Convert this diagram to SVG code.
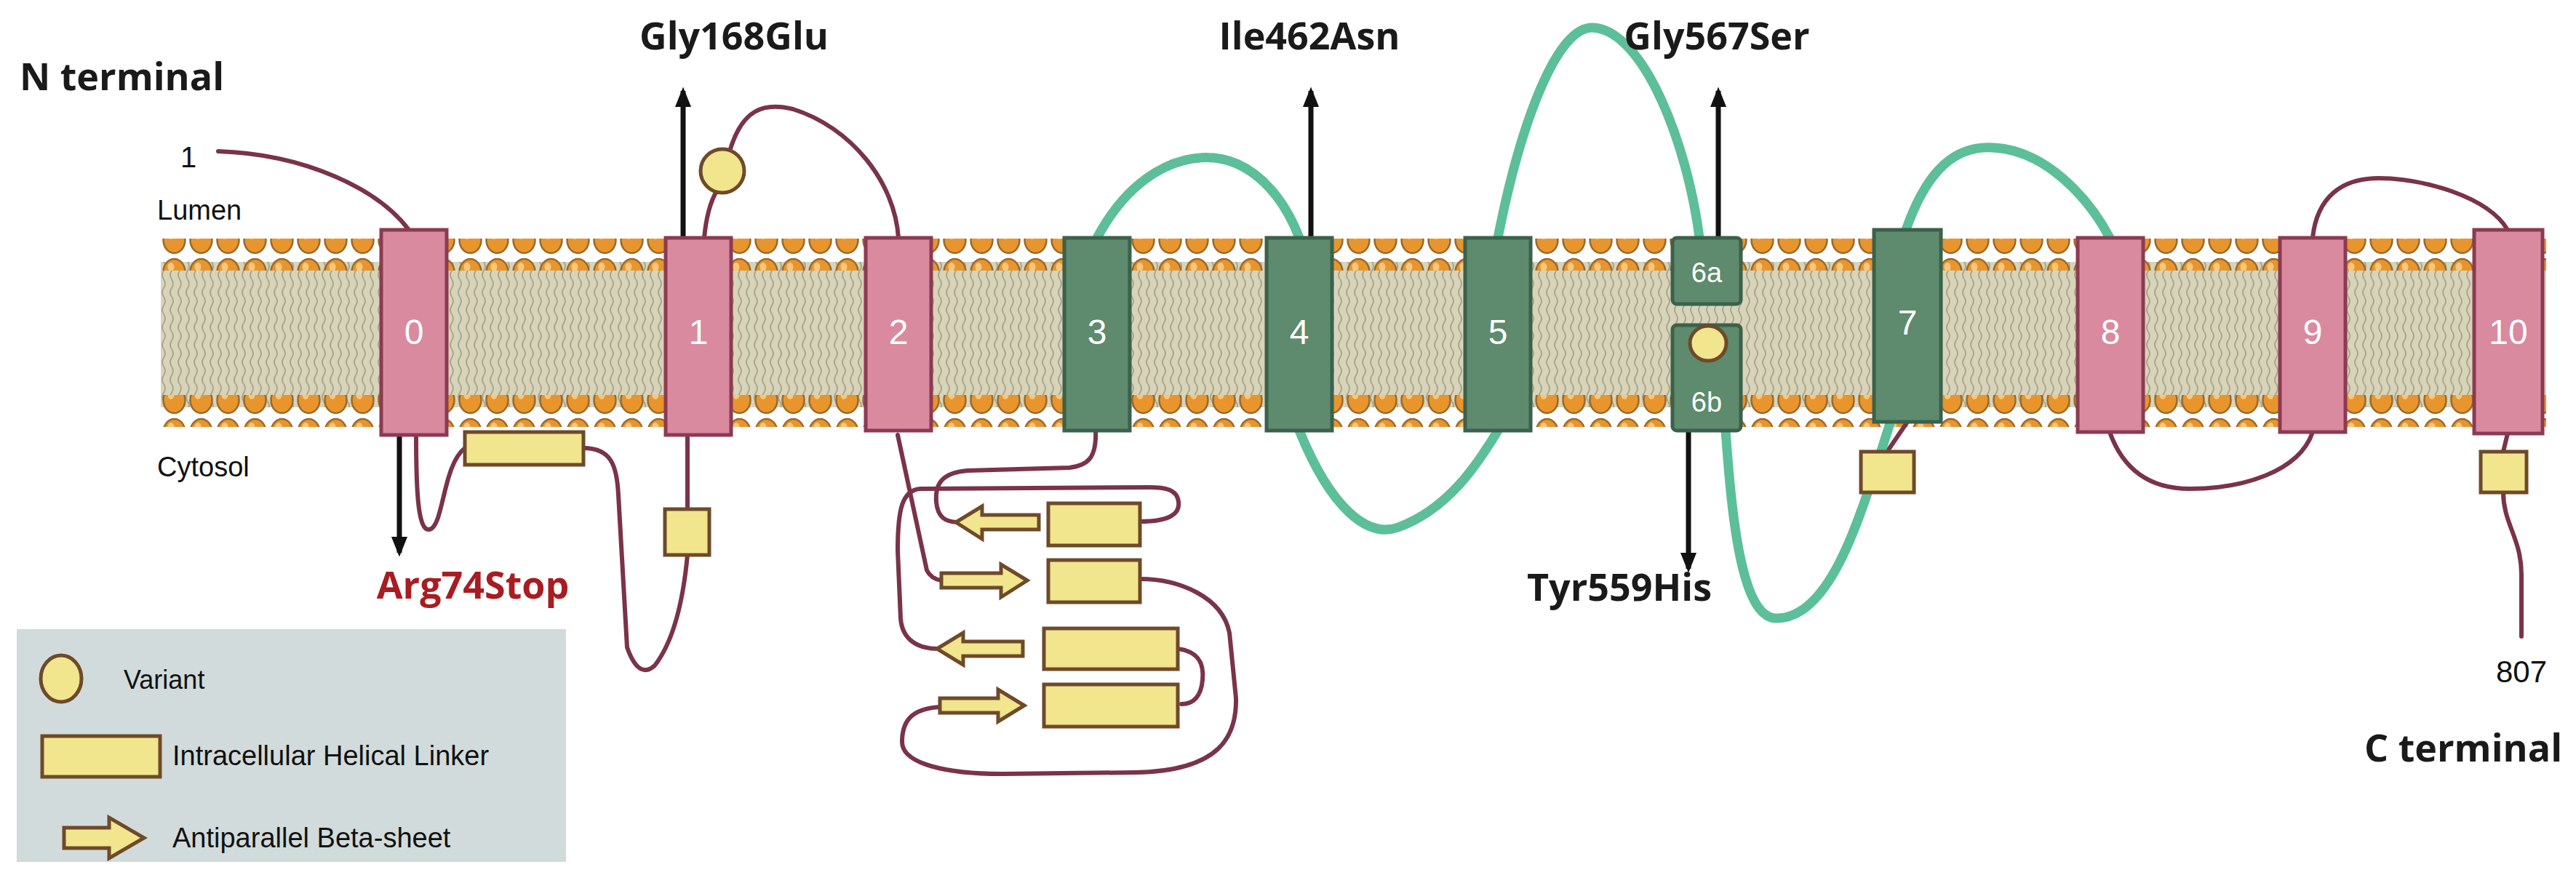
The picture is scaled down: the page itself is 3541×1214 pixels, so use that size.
<svg xmlns="http://www.w3.org/2000/svg" width="3541" height="1214" viewBox="0 0 3541 1214">
<style>
.lbl{font-family:"Liberation Sans",Arial,sans-serif;fill:#111}
.big{font-family:"Open Sans","Liberation Sans",sans-serif;font-weight:bold;font-size:52px;fill:#1a1a1a}
.hx{font-family:"Liberation Sans",Arial,sans-serif;font-size:48px;fill:#fff;text-anchor:middle}
.pink{fill:#d98a9f;stroke:#8c3a52;stroke-width:5}
.grn{fill:#5e8a6d;stroke:#3b614b;stroke-width:5}
.yel{fill:#f1e58e;stroke:#6e4a2a;stroke-width:5}
.loop{fill:none;stroke:#7a3349;stroke-width:6;stroke-linecap:round}
.gloop{fill:none;stroke:#5cbf99;stroke-width:13;stroke-linecap:round}
.mut{stroke:#111;stroke-width:7;fill:none}
</style>
<defs>
<pattern id="heads" x="221" y="0" width="37" height="44" patternUnits="userSpaceOnUse">
<ellipse cx="18.5" cy="22" rx="15" ry="18" fill="#e8952e" stroke="#9a6a2a" stroke-width="2.5"/>
<ellipse cx="14" cy="15" rx="4.5" ry="6" fill="#f7c77a"/>
</pattern>
<pattern id="tails" x="221" y="0" width="11" height="24" patternUnits="userSpaceOnUse">
<path d="M4,0 Q8,6 4,12 Q0,18 4,24" fill="none" stroke="#a9a68b" stroke-width="2"/>
</pattern>
<marker id="ah" viewBox="0 0 10 10" refX="8" refY="5" markerWidth="4" markerHeight="5" orient="auto">
<path d="M0,1 L10,5 L0,9 Z" fill="#111"/>
</marker>
</defs>

<g id="membrane">
<rect x="221" y="360" width="3279" height="200" fill="#d7d4ba"/>
<rect x="221" y="360" width="3279" height="200" fill="url(#tails)"/>
<rect x="221" y="328" width="3279" height="44" fill="url(#heads)"/>
<rect x="221" y="543" width="3279" height="44" fill="url(#heads)"/>
</g>

<g id="connectors">
<path class="loop" d="M300,208 C420,212 520,260 562,316"/>
<path class="loop" d="M572,598 C572,680 575,730 590,728 C610,725 608,640 639,616"/>
<path class="loop" d="M802,616 C840,616 848,640 850,680 L862,890 Q878,935 900,915 Q935,870 945,763"/>
<path class="loop" d="M945,700 L945,598"/>
<path class="loop" d="M968,327 Q972,285 985,263"/>
<path class="loop" d="M1003,208 C1020,150 1050,140 1090,150 C1170,175 1230,250 1235,327"/>
<path class="loop" d="M1234,598 L1274,784 Q1280,796 1294,798"/>
<path class="loop" d="M1506,590 C1508,630 1495,640 1470,643 L1330,647 C1295,650 1285,665 1287,690 C1289,712 1300,718 1318,718"/>
<path class="loop" d="M1567,717 C1610,717 1622,705 1620,690 C1618,672 1600,670 1580,670 L1265,672 C1240,674 1234,700 1234,757 L1238,850 C1240,880 1262,892 1290,892"/>
<path class="loop" d="M1619,892 C1650,896 1655,915 1653,935 C1651,958 1640,968 1624,968"/>
<path class="loop" d="M1292,972 C1260,974 1240,985 1240,1020 C1240,1050 1300,1064 1378,1064 L1560,1062 C1680,1060 1700,1010 1699,960 L1690,870 C1680,820 1620,796 1567,796"/>
<path class="loop" d="M2622,580 L2594,621"/>
<path class="loop" d="M2900,594 C2920,650 2960,672 3010,672 C3080,672 3160,650 3179,594"/>
<path class="loop" d="M3179,327 C3185,270 3220,245 3270,245 C3330,245 3420,270 3447,316"/>
<path class="loop" d="M3447,596 L3441,621"/>
<path class="loop" d="M3441,677 C3441,720 3466,740 3466,790 L3466,875"/>
<path class="gloop" d="M1508,327 C1560,230 1640,200 1700,225 C1745,245 1772,290 1786,327"/>
<path class="gloop" d="M1786,592 C1830,700 1880,740 1922,725 C1990,700 2030,640 2059,592"/>
<path class="gloop" d="M2059,327 C2090,170 2140,35 2190,38 C2260,42 2320,200 2336,327"/>
<path class="gloop" d="M2372,592 C2380,700 2392,850 2442,850 C2520,850 2560,700 2600,576"/>
<path class="gloop" d="M2620,316 C2650,230 2690,200 2740,203 C2810,206 2870,270 2900,327"/>
<path class="mut" d="M939,327 L939,125" marker-end="url(#ah)"/>
<path class="mut" d="M1802,335 L1802,125" marker-end="url(#ah)"/>
<path class="mut" d="M2362,327 L2362,125" marker-end="url(#ah)"/>
<path class="mut" d="M2321,592 L2321,782" marker-end="url(#ah)"/>
<path class="mut" d="M549,598 L549,760" marker-end="url(#ah)"/>
</g>

<g id="h0"><rect class="pink" x="524" y="316" width="90" height="282"/><text class="hx" x="569" y="473">0</text></g>
<g id="h1"><rect class="pink" x="915" y="327" width="90" height="271"/><text class="hx" x="960" y="473">1</text></g>
<g id="h2"><rect class="pink" x="1190" y="327" width="90" height="265"/><text class="hx" x="1235" y="473">2</text></g>
<g id="h3"><rect class="grn" x="1463" y="327" width="90" height="265"/><text class="hx" x="1508" y="473">3</text></g>
<g id="h4"><rect class="grn" x="1741" y="327" width="90" height="265"/><text class="hx" x="1786" y="473">4</text></g>
<g id="h5"><rect class="grn" x="2014" y="327" width="90" height="265"/><text class="hx" x="2059" y="473">5</text></g>
<g id="h6a"><rect class="grn" x="2299" y="327" width="94" height="91" rx="6"/><text class="hx" x="2346" y="388" style="font-size:38px">6a</text></g>
<g id="h6b"><rect class="grn" x="2299" y="447" width="94" height="145" rx="6"/><text class="hx" x="2346" y="566" style="font-size:38px">6b</text></g>
<g id="h7"><rect class="grn" x="2576" y="316" width="92" height="264"/><text class="hx" x="2622" y="460">7</text></g>
<g id="h8"><rect class="pink" x="2856" y="327" width="90" height="267"/><text class="hx" x="2901" y="473">8</text></g>
<g id="h9"><rect class="pink" x="3134" y="327" width="90" height="267"/><text class="hx" x="3179" y="473">9</text></g>
<g id="h10"><rect class="pink" x="3401" y="316" width="94" height="280"/><text class="hx" x="3448" y="473">10</text></g>

<g id="var1"><ellipse class="yel" cx="993" cy="235" rx="30" ry="30"/></g>
<g id="var2"><ellipse class="yel" cx="2348" cy="472" rx="25" ry="24"/></g>

<g id="linker0"><rect class="yel" x="639" y="594" width="163" height="45"/></g>
<g id="linker1"><rect class="yel" x="914" y="700" width="61" height="63"/></g>
<g id="linker7"><rect class="yel" x="2558" y="621" width="73" height="56"/></g>
<g id="linker10"><rect class="yel" x="3410" y="621" width="63" height="56"/></g>
<g id="b1"><rect class="yel" x="1441" y="692" width="126" height="58"/><path class="yel" d="M1314,718 L1350,696 L1350,708 L1428,708 L1428,728 L1350,728 L1350,741 Z"/></g>
<g id="b2"><rect class="yel" x="1441" y="770" width="126" height="58"/><path class="yel" d="M1412,798 L1376,776 L1376,788 L1294,788 L1294,808 L1376,808 L1376,821 Z"/></g>
<g id="b3"><rect class="yel" x="1435" y="864" width="184" height="56"/><path class="yel" d="M1288,892 L1324,870 L1324,882 L1406,882 L1406,902 L1324,902 L1324,914 Z"/></g>
<g id="b4"><rect class="yel" x="1435" y="941" width="184" height="58"/><path class="yel" d="M1408,970 L1372,948 L1372,960 L1292,960 L1292,980 L1372,980 L1372,992 Z"/></g>

<g id="labels">
<text class="big" x="27" y="124">N terminal</text>
<text class="lbl" x="248" y="230" font-size="40">1</text>
<text class="lbl" x="216" y="302" font-size="38">Lumen</text>
<text class="lbl" x="216" y="655" font-size="38">Cytosol</text>
<text class="big" x="1009" y="68" text-anchor="middle">Gly168Glu</text>
<text class="big" x="1800" y="68" text-anchor="middle">Ile462Asn</text>
<text class="big" x="2360" y="68" text-anchor="middle">Gly567Ser</text>
<text class="big" x="2226" y="826" text-anchor="middle">Tyr559His</text>
<text class="big" x="650" y="823" text-anchor="middle" style="fill:#a81d22">Arg74Stop</text>
<text class="lbl" x="3466" y="938" font-size="42" text-anchor="middle">807</text>
<text class="big" x="3522" y="1047" text-anchor="end">C terminal</text>
</g>

<g id="legend">
<rect x="23" y="865" width="755" height="320" fill="#d2dbdb"/>
<ellipse class="yel" cx="84" cy="933" rx="28" ry="32"/>
<text class="lbl" x="170" y="947" font-size="36">Variant</text>
<rect class="yel" x="58" y="1012" width="162" height="56"/>
<text class="lbl" x="237" y="1052" font-size="38">Intracellular Helical Linker</text>
<path class="yel" d="M88,1138 L150,1138 L150,1124 L198,1152 L150,1180 L150,1166 L88,1166 Z"/>
<text class="lbl" x="237" y="1165" font-size="38">Antiparallel Beta-sheet</text>
</g>
</svg>
